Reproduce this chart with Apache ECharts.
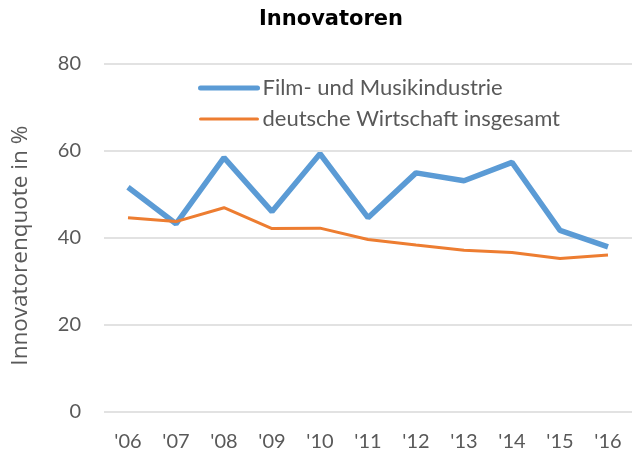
<!DOCTYPE html>
<html>
<head>
<meta charset="utf-8">
<script src="https://cdn.jsdelivr.net/npm/echarts@6/dist/echarts.min.js"></script>
<style>
  html, body { margin: 0; padding: 0; background: #fff; }
  #chart { width: 634px; height: 454px; }
</style>
</head>
<body>
<div id="chart"></div>
<script>
// Values
const years = ["'06", "'07", "'08", "'09", "'10", "'11", "'12", "'13", "'14", "'15", "'16"]
const filmMusik = [51.6, 43.2, 58.4, 46.0, 59.3, 44.6, 54.9, 53.1, 57.3, 41.7, 37.9]
const wirtschaft = [44.6, 43.7, 46.9, 42.1, 42.2, 39.6, 38.3, 37.1, 36.6, 35.2, 36.0]
const yTicks = { min: 0, max: 80, interval: 20 }

const font = 'Lato, "Open Sans", sans-serif'
const textColor = '#595959'
const blue = '#5b9bd5'
const orange = '#ed7d31'

const chart = echarts.init(document.getElementById('chart'), null, { renderer: 'canvas' })

chart.setOption({
  animation: false,
  textStyle: { fontFamily: font, color: textColor },
  title: {
    text: 'Innovatoren',
    left: 259,
    top: 9,
    padding: 0,
    textStyle: { fontFamily: '"DejaVu Sans", sans-serif', fontSize: 21, fontWeight: 'bold', color: '#000' },
  },
  legend: {
    orient: 'vertical',
    left: 198,
    top: 77,
    padding: 0,
    itemWidth: 57,
    itemHeight: 14,
    itemGap: 9,
    textStyle: { fontFamily: font, fontSize: 22, lineHeight: 22, color: textColor },
    // hide the point marker, keep only the line
    itemStyle: { opacity: 0 },
    data: [
      { name: 'Film- und Musikindustrie', lineStyle: { width: 5, cap: 'round' } },
      { name: 'deutsche Wirtschaft insgesamt', lineStyle: { width: 3, cap: 'round' } },
    ],
  },
  grid: { left: 104, right: 2, top: 63.7, bottom: 42.3 },
  xAxis: {
    type: 'category',
    data: years,
    boundaryGap: true,
    axisLine: { show: false },
    axisTick: { show: false },
    axisLabel: { fontFamily: font, fontSize: 20, color: textColor, margin: 20 },
  },
  yAxis: {
    type: 'value',
    min: yTicks.min,
    max: yTicks.max,
    interval: yTicks.interval,
    name: 'Innovatorenquote in %',
    nameLocation: 'middle',
    nameGap: 72,
    nameTextStyle: { fontFamily: '"Open Sans", sans-serif', fontSize: 22.5, color: textColor, padding: [0, 16, 0, 0] },
    axisLine: { show: false },
    axisTick: { show: false },
    axisLabel: { fontFamily: font, fontSize: 20, color: textColor, margin: 23 },
    splitLine: { lineStyle: { color: '#d9d9d9', width: 1.5 } },
  },
  series: [
    {
      name: 'Film- und Musikindustrie',
      type: 'line',
      data: filmMusik,
      showSymbol: false,
      symbol: 'none',
      lineStyle: { color: blue, width: 5.5 },
      itemStyle: { color: blue },
    },
    {
      name: 'deutsche Wirtschaft insgesamt',
      type: 'line',
      data: wirtschaft,
      showSymbol: false,
      symbol: 'none',
      lineStyle: { color: orange, width: 3 },
      itemStyle: { color: orange },
    },
  ],
})
</script>
</body>
</html>
